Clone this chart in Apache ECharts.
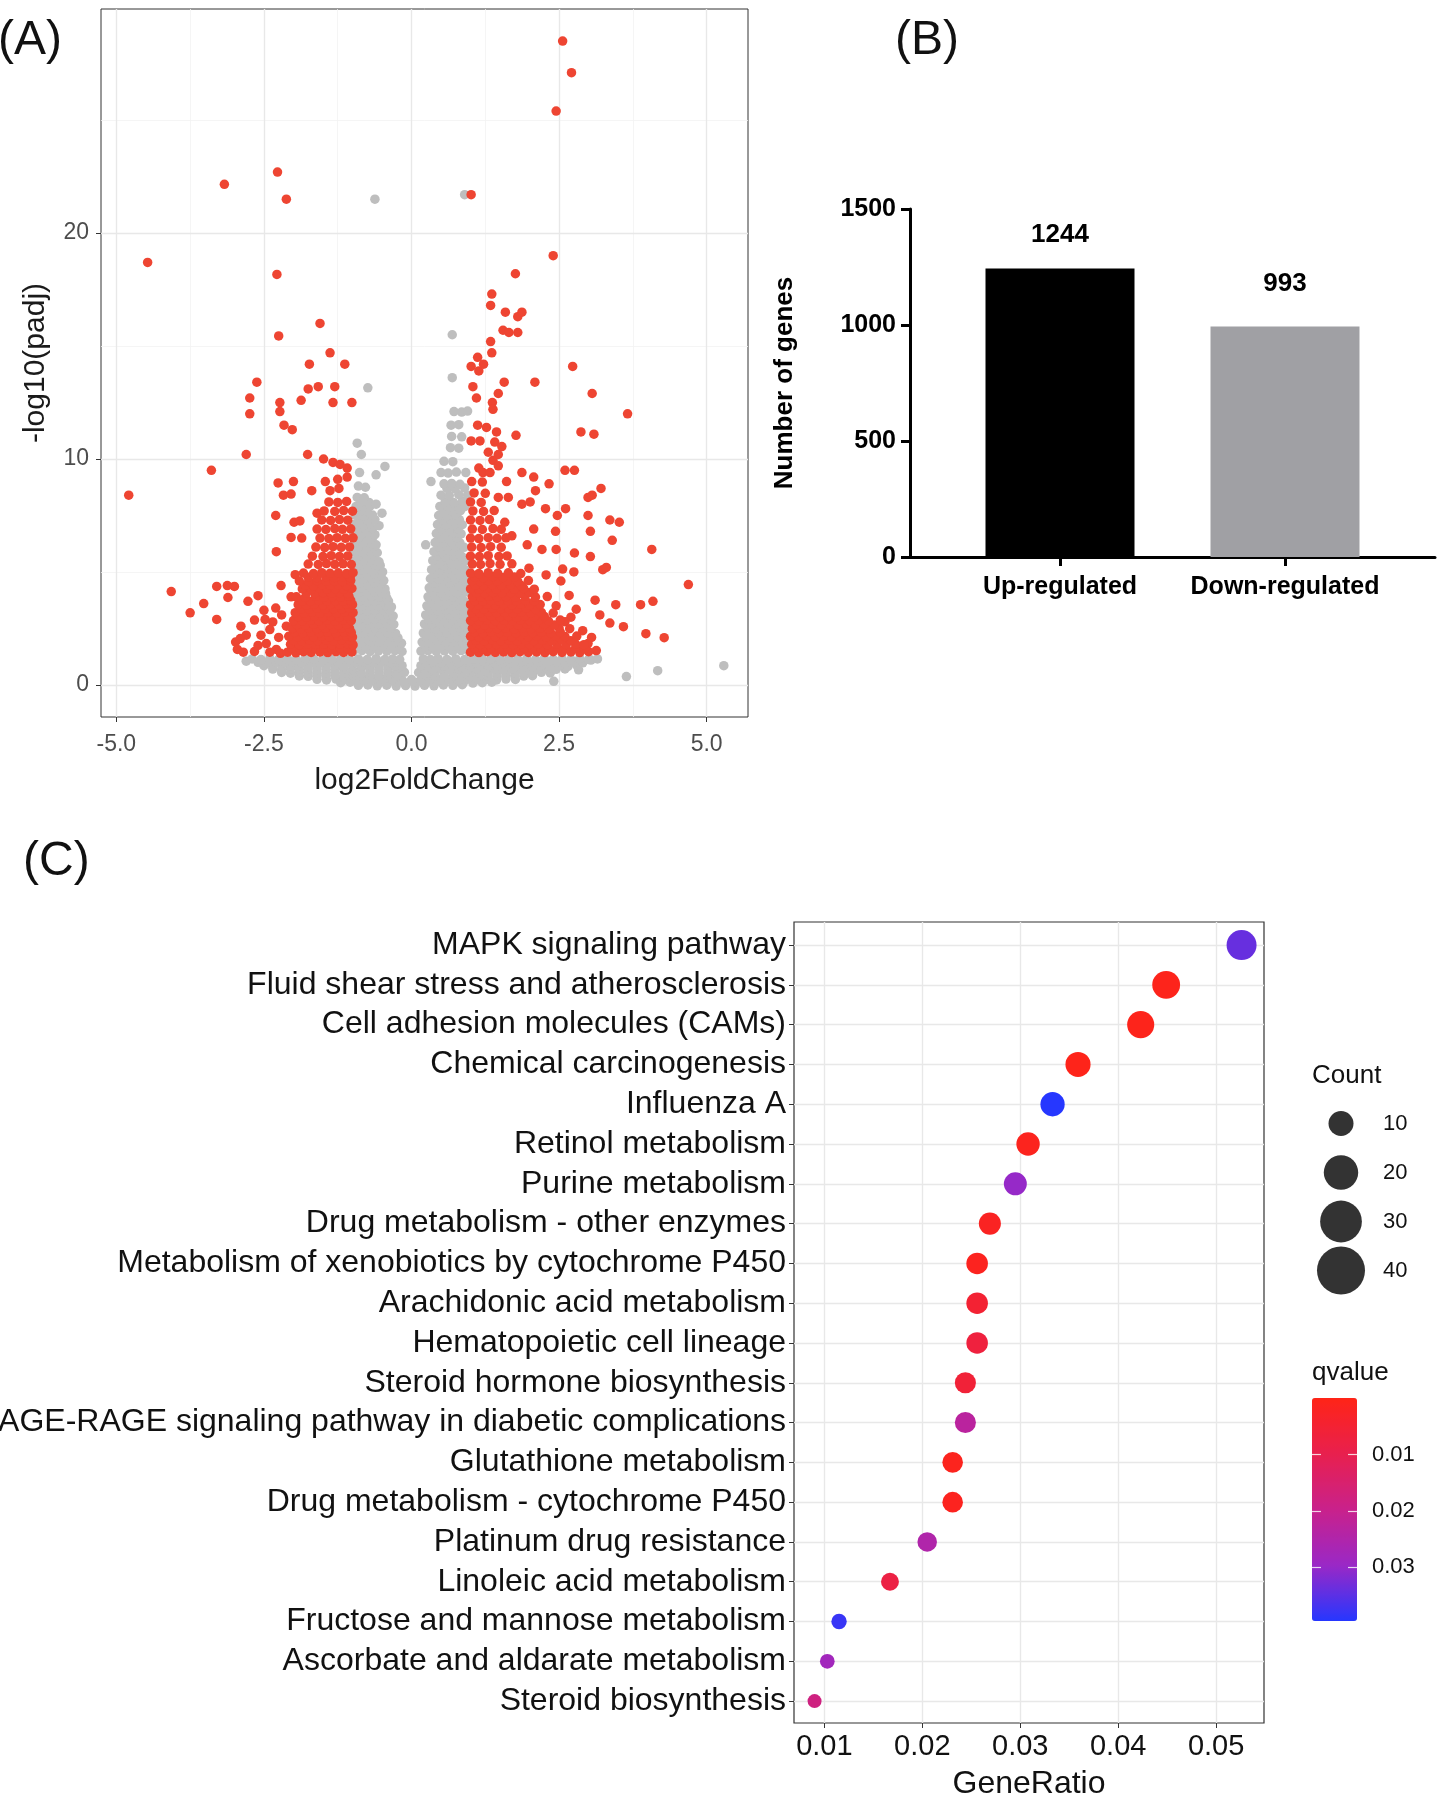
<!DOCTYPE html>
<html>
<head>
<meta charset="utf-8">
<title>DEG summary</title>
<script src="https://cdn.jsdelivr.net/npm/echarts@6.0.0/dist/echarts.min.js"></script>
<style>
html, body { margin: 0; padding: 0; background: #fff; }
#chart { width: 1442px; height: 1800px; }
</style>
</head>
<body>
<div id="chart"></div>
<script>
// (A) volcano: [log2FoldChange, -log10(padj)]
const sigGenes = [
  [-2.27,22.7],[-3.17,22.16],[-2.12,21.5],[-4.47,18.7],[-2.28,18.17],[-1.55,16.0],[-2.25,15.45],[-1.38,14.7],[-1.73,14.2],[-1.13,14.2],
  [-2.62,13.4],[-1.75,13.1],[-1.58,13.2],[-1.30,13.2],[-2.74,12.7],[-2.23,12.5],[-1.87,12.6],[-1.33,12.5],[-1.01,12.5],[-2.74,12.0],
  [-2.23,12.1],[-2.16,11.5],[-2.02,11.3],[-2.80,10.2],[-1.76,10.2],[-3.39,9.5],[-4.79,8.4],[-1.49,10.0],[-1.33,9.85],[-1.21,9.76],
  [-1.09,9.6],[-2.26,8.94],[-2.0,9.0],[-2.17,8.4],[-2.04,8.45],[-1.69,8.6],[-1.46,9.0],[-1.25,9.1],[-1.09,9.2],[-1.38,8.6],
  [-1.23,8.7],[-2.30,7.5],[-1.99,7.2],[-1.89,7.26],[-1.60,7.6],[-2.04,6.53],[-1.86,6.5],[-2.29,5.9],[-1.97,4.88],[-2.21,4.4],
  [-4.07,4.13],[-3.30,4.36],[-3.12,4.4],[-3.0,4.36],[-3.11,3.87],[-3.52,3.6],[-3.75,3.19],[-3.30,2.9],[-2.77,3.7],[-2.60,3.95],
  [-2.89,2.6],[-2.66,2.87],[-2.48,2.9],[-2.35,2.79],[-2.98,1.9],[-2.95,1.57],[-2.66,1.48],[-2.46,1.83],[-2.29,1.57],[-2.12,2.6],
  [-2.04,3.9],[-2.8,2.2],[-2.55,2.2],[-2.4,2.45],[-2.25,2.1],[-2.6,1.75],[-2.4,1.45],[-2.22,1.4],[-2.85,1.45],[-2.9,2.05],
  [-2.5,3.3],[-2.3,3.4],[-2.2,3.1],
  [-2.1,1.45],[-1.96,1.42],[-1.83,1.47],[-1.7,1.44],[-1.55,1.46],[-1.42,1.43],[-1.28,1.47],[-1.15,1.44],[-1.01,1.46],
  [-2.03,1.62],[-1.89,1.6],[-1.76,1.64],[-1.62,1.61],[-1.48,1.63],[-1.35,1.6],[-1.21,1.64],[-1.08,1.62],
  [-2.05,1.8],[-1.9,1.78],[-1.76,1.82],[-1.62,1.79],[-1.49,1.81],[-1.35,1.78],[-1.21,1.82],[-1.07,1.8],[-0.99,1.77],
  [-2.0,1.97],[-1.86,1.95],[-1.73,1.99],[-1.59,1.96],[-1.45,1.98],[-1.32,1.95],[-1.18,1.99],[-1.04,1.97],
  [-2.08,2.15],[-1.93,2.13],[-1.8,2.17],[-1.66,2.14],[-1.52,2.16],[-1.39,2.13],[-1.25,2.17],[-1.1,2.15],[-1.0,2.12],
  [-1.98,2.32],[-1.84,2.3],[-1.7,2.34],[-1.56,2.31],[-1.42,2.33],[-1.28,2.3],[-1.14,2.34],[-1.02,2.32],
  [-2.02,2.5],[-1.88,2.48],[-1.74,2.52],[-1.6,2.49],[-1.46,2.51],[-1.32,2.48],[-1.18,2.52],[-1.05,2.5],
  [-1.94,2.67],[-1.8,2.65],[-1.66,2.69],[-1.52,2.66],[-1.38,2.68],[-1.24,2.65],[-1.1,2.69],
  [-2.0,2.85],[-1.85,2.83],[-1.71,2.87],[-1.57,2.84],[-1.43,2.86],[-1.3,2.83],[-1.16,2.87],[-1.02,2.85],
  [-1.92,3.02],[-1.78,3.0],[-1.64,3.04],[-1.5,3.01],[-1.36,3.03],[-1.22,3.0],[-1.08,3.04],
  [-1.97,3.2],[-1.82,3.18],[-1.68,3.22],[-1.55,3.19],[-1.41,3.21],[-1.27,3.18],[-1.13,3.22],[-0.99,3.2],
  [-1.87,3.37],[-1.73,3.35],[-1.6,3.39],[-1.46,3.36],[-1.32,3.38],[-1.18,3.35],[-1.05,3.39],
  [-1.92,3.55],[-1.78,3.53],[-1.65,3.57],[-1.5,3.54],[-1.37,3.56],[-1.23,3.53],[-1.1,3.57],[-1.0,3.55],
  [-1.85,3.72],[-1.71,3.7],[-1.57,3.74],[-1.43,3.71],[-1.29,3.73],[-1.16,3.7],[-1.03,3.74],
  [-1.95,3.9],[-1.8,3.88],[-1.62,3.92],[-1.48,3.89],[-1.34,3.91],[-1.2,3.88],[-1.06,3.92],
  [-1.78,4.07],[-1.64,4.05],[-1.5,4.09],[-1.36,4.06],[-1.22,4.08],[-1.08,4.05],
  [-1.85,4.25],[-1.7,4.23],[-1.56,4.27],[-1.43,4.24],[-1.29,4.26],[-1.15,4.23],[-1.01,4.27],
  [-1.8,4.42],[-1.66,4.4],[-1.52,4.44],[-1.38,4.41],[-1.24,4.43],[-1.1,4.4],
  [-1.9,4.6],[-1.74,4.58],[-1.6,4.62],[-1.45,4.59],[-1.31,4.61],[-1.17,4.58],[-1.03,4.62],
  [-1.75,4.77],[-1.6,4.75],[-1.45,4.79],[-1.31,4.76],[-1.17,4.78],[-1.04,4.75],
  [-1.83,4.95],[-1.66,4.93],[-1.52,4.97],[-1.38,4.94],[-1.24,4.96],[-1.1,4.93],[-0.99,4.97],
  [-1.75,5.35],[-1.58,5.33],[-1.44,5.37],[-1.3,5.34],[-1.16,5.36],[-1.02,5.33],
  [-1.68,5.7],[-1.5,5.68],[-1.36,5.72],[-1.22,5.69],[-1.08,5.71],
  [-1.62,6.1],[-1.47,6.08],[-1.33,6.12],[-1.19,6.09],[-1.05,6.11],
  [-1.55,6.5],[-1.4,6.48],[-1.26,6.52],[-1.12,6.49],[-0.99,6.51],
  [-1.6,6.9],[-1.45,6.88],[-1.3,6.92],[-1.17,6.89],[-1.03,6.91],
  [-1.52,7.3],[-1.37,7.28],[-1.22,7.32],[-1.08,7.29],
  [-1.48,7.7],[-1.3,7.68],[-1.15,7.72],[-1.0,7.69],
  [-1.4,8.1],[-1.25,8.08],[-1.1,8.12],
  [2.56,28.5],[2.71,27.1],[2.45,25.4],[1.01,21.7],[2.40,19.0],[1.76,18.2],[1.36,17.3],[1.34,16.8],[1.59,16.5],[1.80,16.3],
  [1.87,16.5],[1.55,15.7],[1.65,15.6],[1.80,15.6],[1.34,15.2],[1.36,14.7],[1.12,14.5],[1.01,14.1],[1.14,13.9],[1.22,14.2],
  [2.73,14.1],[2.09,13.4],[1.04,13.2],[1.47,12.9],[1.57,13.4],[1.10,12.7],[1.37,12.5],[3.06,12.9],[1.38,12.2],[3.66,12.0],
  [1.12,11.5],[1.27,11.4],[1.44,11.2],[1.77,11.05],[2.87,11.2],[3.09,11.1],[1.01,10.8],[1.16,10.8],[1.41,10.75],[1.53,10.55],
  [1.30,10.3],[1.47,10.2],[1.38,9.94],[1.14,9.6],[1.21,9.4],[1.33,9.4],[1.47,9.7],[1.87,9.4],[2.07,9.2],[2.60,9.5],
  [2.76,9.5],[1.61,9.0],[2.33,8.9],[2.10,8.6],[3.21,8.7],[1.47,8.3],[1.64,8.3],[2.01,8.1],[1.87,8.0],[2.99,8.3],
  [3.06,8.4],[2.27,7.8],[2.61,7.8],[2.47,7.5],[2.99,7.5],[3.36,7.3],[3.52,7.2],[1.58,7.2],[2.07,6.9],[2.44,6.8],
  [3.03,6.8],[3.40,6.4],[4.07,6.0],[1.70,6.6],[1.96,6.2],[2.21,6.0],[2.45,6.0],[2.76,5.84],[3.03,5.68],[3.24,5.1],
  [3.30,5.2],[2.56,5.13],[2.75,5.0],[2.28,4.87],[2.53,4.6],[1.99,5.17],[4.69,4.44],[2.67,3.96],[3.11,3.75],[3.46,3.55],
  [3.88,3.55],[4.09,3.7],[2.79,3.35],[3.19,3.1],[3.36,2.74],[3.59,2.58],[3.97,2.27],[4.28,2.09],[3.13,1.52],[2.99,1.83],
  [2.9,2.4],[3.05,2.1],[2.7,3.0],[2.45,3.5],[2.6,2.8],
  [1.0,1.45],[1.14,1.43],[1.28,1.47],[1.42,1.44],[1.56,1.46],[1.7,1.43],[1.84,1.47],[1.98,1.44],[2.12,1.46],[2.26,1.43],[2.4,1.47],[2.55,1.44],[2.7,1.46],[2.85,1.43],[3.0,1.47],
  [1.07,1.62],[1.21,1.6],[1.35,1.64],[1.49,1.61],[1.63,1.63],[1.77,1.6],[1.91,1.64],[2.05,1.61],[2.19,1.63],[2.33,1.6],[2.48,1.64],[2.62,1.61],[2.78,1.63],[2.93,1.6],
  [1.02,1.8],[1.16,1.78],[1.3,1.82],[1.44,1.79],[1.58,1.81],[1.72,1.78],[1.86,1.82],[2.0,1.79],[2.14,1.81],[2.3,1.78],[2.46,1.82],[2.62,1.79],[2.78,1.81],[2.92,1.78],
  [1.09,1.97],[1.23,1.95],[1.37,1.99],[1.51,1.96],[1.65,1.98],[1.79,1.95],[1.93,1.99],[2.07,1.96],[2.22,1.98],[2.38,1.95],[2.54,1.99],[2.7,1.96],
  [1.0,2.15],[1.14,2.13],[1.28,2.17],[1.42,2.14],[1.56,2.16],[1.7,2.13],[1.84,2.17],[1.98,2.14],[2.12,2.16],[2.28,2.13],[2.44,2.17],[2.6,2.14],[2.8,2.16],
  [1.07,2.32],[1.21,2.3],[1.35,2.34],[1.49,2.31],[1.63,2.33],[1.77,2.3],[1.91,2.34],[2.05,2.31],[2.2,2.33],[2.36,2.3],[2.52,2.34],
  [1.03,2.5],[1.17,2.48],[1.31,2.52],[1.45,2.49],[1.6,2.51],[1.74,2.48],[1.88,2.52],[2.02,2.49],[2.17,2.51],[2.33,2.48],[2.5,2.52],[2.68,2.49],
  [1.1,2.67],[1.24,2.65],[1.38,2.69],[1.52,2.66],[1.67,2.68],[1.81,2.65],[1.95,2.69],[2.1,2.66],[2.25,2.68],[2.42,2.65],
  [1.0,2.85],[1.14,2.83],[1.28,2.87],[1.42,2.84],[1.57,2.86],[1.71,2.83],[1.85,2.87],[2.0,2.84],[2.15,2.86],[2.32,2.83],[2.52,2.87],
  [1.07,3.02],[1.21,3.0],[1.35,3.04],[1.5,3.01],[1.64,3.03],[1.78,3.0],[1.92,3.04],[2.08,3.01],[2.25,3.03],
  [1.02,3.2],[1.16,3.18],[1.3,3.22],[1.44,3.19],[1.58,3.21],[1.72,3.18],[1.86,3.22],[2.02,3.19],[2.2,3.21],[2.4,3.18],
  [1.09,3.37],[1.23,3.35],[1.37,3.39],[1.51,3.36],[1.65,3.38],[1.79,3.35],[1.94,3.39],[2.1,3.36],
  [1.0,3.55],[1.14,3.53],[1.28,3.57],[1.42,3.54],[1.56,3.56],[1.7,3.53],[1.85,3.57],[2.0,3.54],[2.18,3.56],
  [1.07,3.72],[1.21,3.7],[1.35,3.74],[1.49,3.71],[1.63,3.73],[1.78,3.7],[1.93,3.74],[2.08,3.71],
  [1.03,3.9],[1.17,3.88],[1.31,3.92],[1.45,3.89],[1.6,3.91],[1.76,3.88],[1.92,3.92],[2.1,3.89],[2.3,3.91],
  [1.1,4.07],[1.24,4.05],[1.38,4.09],[1.53,4.06],[1.68,4.08],[1.84,4.05],[2.0,4.09],
  [1.0,4.25],[1.14,4.23],[1.28,4.27],[1.43,4.24],[1.58,4.26],[1.74,4.23],[1.9,4.27],[2.08,4.24],
  [1.08,4.42],[1.22,4.4],[1.36,4.44],[1.52,4.41],[1.68,4.43],[1.86,4.4],
  [1.02,4.6],[1.16,4.58],[1.3,4.62],[1.45,4.59],[1.62,4.61],[1.8,4.58],[1.98,4.62],
  [1.07,4.77],[1.22,4.75],[1.38,4.79],[1.55,4.76],[1.74,4.78],
  [1.0,4.95],[1.14,4.93],[1.3,4.97],[1.46,4.94],[1.64,4.96],[1.85,4.93],
  [1.03,5.35],[1.17,5.33],[1.33,5.37],[1.5,5.34],[1.7,5.36],
  [1.0,5.7],[1.15,5.68],[1.3,5.72],[1.48,5.69],[1.62,5.71],
  [1.02,6.1],[1.18,6.08],[1.34,6.12],[1.52,6.09],
  [1.0,6.5],[1.14,6.48],[1.3,6.52],[1.45,6.49],[1.6,6.51],
  [1.03,6.9],[1.2,6.88],[1.38,6.92],[1.52,6.89],
  [1.0,7.3],[1.16,7.28],[1.32,7.32],
  [1.04,7.7],[1.22,7.68],[1.4,7.72],
  [1.0,8.1],[1.18,8.08],
  [1.06,8.5],[1.25,8.48],
  [1.02,9.0],[1.2,8.98]
];

const otherGenes = [
  [-0.62,21.5],[-0.74,13.15],[0.9,21.7],[0.69,15.5],[0.69,13.6],[-0.45,9.67],[-0.92,10.7],[-0.85,10.2],
  [5.29,0.85],[4.17,0.63],[3.64,0.37],[2.41,0.16],[2.83,0.67],[3.04,1.1],[-2.8,1.05],
  [-0.9,-0.02],[-0.74,0.0],[-0.58,-0.04],[-0.42,-0.01],[-0.26,-0.05],[-0.1,-0.03],[0.06,-0.05],[0.22,-0.02],[0.38,-0.04],[0.54,0.0],[0.7,-0.02],[0.86,0.01],
  [-1.2,0.1],[-1.04,0.12],[-0.88,0.09],[-0.72,0.11],[-0.56,0.08],[-0.4,0.1],[-0.24,0.12],[-0.08,0.09],[0.08,0.11],[0.24,0.08],[0.4,0.1],
  [0.56,0.12],[0.72,0.09],[0.88,0.11],[1.04,0.08],[1.2,0.1],[1.36,0.12],
  [-1.6,0.25],[-1.44,0.22],[-1.28,0.26],[-1.12,0.23],[-0.96,0.25],[-0.8,0.22],[-0.64,0.26],[-0.48,0.23],[-0.32,0.25],[-0.16,0.22],[0.0,0.24],
  [0.16,0.22],[0.32,0.26],[0.48,0.23],[0.64,0.25],[0.8,0.22],[0.96,0.26],[1.12,0.23],[1.28,0.25],[1.44,0.22],[1.6,0.26],[1.76,0.24],
  [-1.9,0.4],[-1.75,0.38],[-1.6,0.42],[-1.45,0.39],[-1.3,0.41],[-1.15,0.38],[-1.0,0.42],[-0.85,0.39],[-0.7,0.41],[-0.55,0.38],[-0.4,0.42],
  [-0.25,0.39],[0.25,0.41],[0.4,0.38],[0.55,0.42],[0.7,0.39],[0.85,0.41],[1.0,0.38],[1.15,0.42],[1.3,0.39],[1.45,0.41],[1.6,0.38],
  [1.75,0.42],[1.9,0.39],[2.05,0.41],
  [-2.2,0.55],[-2.05,0.52],[-1.9,0.56],[-1.75,0.53],[-1.6,0.55],[-1.45,0.52],[-1.3,0.56],[-1.15,0.53],[-1.0,0.55],[-0.85,0.52],[-0.7,0.56],
  [-0.55,0.53],[-0.4,0.55],[-0.26,0.52],[-0.12,0.56],[0.12,0.55],[0.26,0.52],[0.4,0.56],[0.55,0.53],[0.7,0.55],[0.85,0.52],[1.0,0.56],
  [1.15,0.53],[1.3,0.55],[1.45,0.52],[1.6,0.56],[1.75,0.53],[1.9,0.55],[2.05,0.52],[2.2,0.56],[2.35,0.53],
  [-2.35,0.7],[-2.2,0.68],[-2.05,0.72],[-1.9,0.69],[-1.75,0.71],[-1.6,0.68],[-1.45,0.72],[-1.3,0.69],[-1.15,0.71],[-1.0,0.68],[-0.85,0.72],
  [-0.7,0.69],[-0.55,0.71],[-0.4,0.68],[-0.25,0.72],[0.22,0.7],[0.35,0.68],[0.5,0.72],[0.65,0.69],[0.8,0.71],[0.95,0.68],[1.1,0.72],
  [1.25,0.69],[1.4,0.71],[1.55,0.68],[1.7,0.72],[1.85,0.69],[2.0,0.71],[2.15,0.68],[2.3,0.72],[2.45,0.69],[2.6,0.71],
  [-2.5,0.85],[-2.35,0.82],[-2.2,0.86],[-2.05,0.83],[-1.9,0.85],[-1.75,0.82],[-1.6,0.86],[-1.45,0.83],[-1.3,0.85],[-1.15,0.82],[-1.0,0.86],
  [-0.85,0.83],[-0.7,0.85],[-0.55,0.82],[-0.4,0.86],[-0.28,0.83],[-0.16,0.85],[0.16,0.85],[0.28,0.82],[0.4,0.86],[0.55,0.83],[0.7,0.85],
  [0.85,0.82],[1.0,0.86],[1.15,0.83],[1.3,0.85],[1.45,0.82],[1.6,0.86],[1.75,0.83],[1.9,0.85],[2.05,0.82],[2.2,0.86],[2.35,0.83],[2.5,0.85],
  [2.65,0.82],[2.8,0.86],
  [-2.6,1.0],[-2.45,0.98],[-2.3,1.02],[-2.15,0.99],[-2.0,1.01],[-1.85,0.98],[-1.7,1.02],[-1.55,0.99],[-1.4,1.01],[-1.25,0.98],[-1.1,1.02],
  [-0.95,0.99],[-0.8,1.01],[-0.65,0.98],[-0.5,1.02],[-0.36,0.99],[-0.24,1.01],[0.24,0.99],[0.36,1.01],[0.5,0.98],[0.65,1.02],[0.8,0.99],
  [0.95,1.01],[1.1,0.98],[1.25,1.02],[1.4,0.99],[1.55,1.01],[1.7,0.98],[1.85,1.02],[2.0,0.99],[2.15,1.01],[2.3,0.98],[2.45,1.02],[2.6,0.99],
  [2.75,1.01],[2.9,0.98],
  [-2.7,1.15],[-2.55,1.12],[-2.4,1.16],[-2.25,1.13],[-2.1,1.15],[-1.95,1.12],[-1.8,1.16],[-1.65,1.13],[-1.5,1.15],[-1.35,1.12],[-1.2,1.16],
  [-1.05,1.13],[-0.9,1.15],[-0.75,1.12],[-0.6,1.16],[-0.45,1.13],[-0.32,1.15],[-0.2,1.12],[0.2,1.15],[0.32,1.12],[0.45,1.16],[0.6,1.13],
  [0.75,1.15],[0.9,1.12],[1.05,1.16],[1.2,1.13],[1.35,1.15],[1.5,1.12],[1.65,1.16],[1.8,1.13],[1.95,1.15],[2.1,1.12],[2.25,1.16],[2.4,1.13],
  [2.55,1.15],[2.7,1.12],[2.85,1.16],[3.0,1.13],[3.15,1.15],
  [-0.98,1.5],[-0.84,1.52],[-0.7,1.48],[-0.56,1.51],[-0.42,1.49],[-0.28,1.52],[-0.16,1.48],
  [-0.91,1.7],[-0.77,1.68],[-0.63,1.72],[-0.49,1.69],[-0.35,1.71],[-0.22,1.68],
  [-0.98,1.9],[-0.84,1.88],[-0.7,1.92],[-0.56,1.89],[-0.42,1.91],[-0.29,1.88],[-0.17,1.85],
  [-0.91,2.1],[-0.77,2.08],[-0.63,2.12],[-0.49,2.09],[-0.35,2.11],[-0.23,2.08],
  [-0.96,2.3],[-0.82,2.28],[-0.68,2.32],[-0.54,2.29],[-0.4,2.31],[-0.27,2.28],
  [-0.9,2.5],[-0.76,2.48],[-0.62,2.52],[-0.48,2.49],[-0.35,2.51],
  [-0.98,2.7],[-0.84,2.68],[-0.7,2.72],[-0.56,2.69],[-0.42,2.71],[-0.3,2.68],
  [-0.9,2.9],[-0.76,2.88],[-0.62,2.92],[-0.48,2.89],[-0.36,2.91],
  [-0.96,3.1],[-0.82,3.08],[-0.68,3.12],[-0.54,3.09],[-0.4,3.11],[-0.31,3.05],
  [-0.9,3.3],[-0.76,3.28],[-0.62,3.32],[-0.48,3.29],[-0.37,3.31],
  [-0.98,3.5],[-0.84,3.48],[-0.7,3.52],[-0.56,3.49],[-0.43,3.51],[-0.34,3.45],
  [-0.9,3.7],[-0.76,3.68],[-0.62,3.72],[-0.49,3.69],[-0.39,3.71],
  [-0.96,3.9],[-0.82,3.88],[-0.68,3.92],[-0.55,3.89],[-0.42,3.85],
  [-0.9,4.1],[-0.76,4.08],[-0.62,4.12],[-0.5,4.09],[-0.44,4.05],
  [-0.98,4.3],[-0.84,4.28],[-0.7,4.32],[-0.57,4.29],[-0.45,4.25],
  [-0.9,4.5],[-0.76,4.48],[-0.62,4.52],[-0.51,4.49],
  [-0.96,4.7],[-0.82,4.68],[-0.68,4.72],[-0.55,4.69],[-0.47,4.62],
  [-0.9,4.9],[-0.76,4.88],[-0.62,4.92],[-0.52,4.89],
  [-0.98,5.1],[-0.84,5.08],[-0.7,5.12],[-0.57,5.09],[-0.49,5.0],
  [-0.9,5.3],[-0.76,5.28],[-0.62,5.32],[-0.53,5.29],
  [-0.96,5.5],[-0.82,5.48],[-0.68,5.52],[-0.55,5.45],
  [-0.9,5.7],[-0.76,5.68],[-0.63,5.72],
  [-0.98,5.9],[-0.84,5.88],[-0.7,5.92],[-0.58,5.85],
  [-0.9,6.1],[-0.76,6.08],[-0.64,6.12],
  [-0.96,6.3],[-0.82,6.28],[-0.68,6.32],[-0.6,6.2],
  [-0.9,6.5],[-0.76,6.48],[-0.66,6.52],
  [-0.98,6.7],[-0.84,6.68],[-0.72,6.72],[-0.62,6.65],
  [-0.9,6.9],[-0.77,6.88],[-0.66,6.92],
  [-0.96,7.1],[-0.82,7.08],[-0.7,7.12],[-0.55,7.05],
  [-0.88,7.3],[-0.75,7.28],[-0.62,7.32],
  [-0.95,7.5],[-0.8,7.48],[-0.66,7.52],
  [-0.87,7.7],[-0.75,7.68],
  [-0.94,7.9],[-0.82,7.88],[-0.7,7.92],[-0.5,7.6],
  [-0.86,8.1],[-0.72,8.08],
  [-0.92,8.3],[-0.8,8.28],[-0.6,8.0],
  [-0.9,8.8],[-0.78,8.75],
  [-0.88,9.4],[-0.6,9.3],
  [0.16,1.5],[0.28,1.52],[0.42,1.48],[0.56,1.51],[0.7,1.49],[0.84,1.52],[0.97,1.48],
  [0.23,1.7],[0.36,1.68],[0.5,1.72],[0.64,1.69],[0.78,1.71],[0.91,1.68],
  [0.18,1.9],[0.3,1.88],[0.44,1.92],[0.58,1.89],[0.72,1.91],[0.86,1.88],[0.98,1.92],
  [0.25,2.1],[0.37,2.08],[0.51,2.12],[0.65,2.09],[0.79,2.11],[0.92,2.08],
  [0.2,2.3],[0.33,2.28],[0.46,2.32],[0.6,2.29],[0.74,2.31],[0.88,2.28],
  [0.27,2.5],[0.4,2.48],[0.54,2.52],[0.68,2.49],[0.82,2.51],[0.95,2.48],
  [0.22,2.7],[0.34,2.68],[0.48,2.72],[0.62,2.69],[0.76,2.71],[0.9,2.68],
  [0.29,2.9],[0.42,2.88],[0.56,2.92],[0.7,2.89],[0.84,2.91],[0.97,2.88],
  [0.24,3.1],[0.36,3.08],[0.5,3.12],[0.64,3.09],[0.78,3.11],[0.92,3.08],
  [0.31,3.3],[0.44,3.28],[0.58,3.32],[0.72,3.29],[0.86,3.31],
  [0.26,3.5],[0.4,3.48],[0.54,3.52],[0.68,3.49],[0.82,3.51],[0.96,3.48],
  [0.33,3.7],[0.47,3.68],[0.61,3.72],[0.75,3.69],[0.89,3.71],
  [0.28,3.9],[0.42,3.88],[0.56,3.92],[0.7,3.89],[0.84,3.91],
  [0.35,4.1],[0.49,4.08],[0.63,4.12],[0.77,4.09],[0.92,4.11],
  [0.3,4.3],[0.44,4.28],[0.58,4.32],[0.72,4.29],[0.86,4.31],
  [0.37,4.5],[0.51,4.48],[0.65,4.52],[0.79,4.49],[0.93,4.51],
  [0.32,4.7],[0.46,4.68],[0.6,4.72],[0.74,4.69],[0.88,4.71],
  [0.39,4.9],[0.53,4.88],[0.67,4.92],[0.81,4.89],[0.95,4.91],
  [0.34,5.1],[0.48,5.08],[0.62,5.12],[0.76,5.09],[0.9,5.11],
  [0.41,5.3],[0.55,5.28],[0.69,5.32],[0.83,5.29],
  [0.36,5.5],[0.5,5.48],[0.64,5.52],[0.78,5.49],[0.92,5.51],
  [0.43,5.7],[0.57,5.68],[0.71,5.72],[0.85,5.69],
  [0.24,6.2],[0.38,5.9],[0.52,5.88],[0.66,5.92],[0.8,5.89],
  [0.47,6.1],[0.61,6.08],[0.75,6.12],[0.89,6.09],
  [0.4,6.3],[0.54,6.28],[0.68,6.32],[0.82,6.29],
  [0.49,6.5],[0.63,6.48],[0.77,6.52],
  [0.42,6.7],[0.56,6.68],[0.7,6.72],[0.84,6.69],
  [0.51,6.9],[0.65,6.88],[0.79,6.92],
  [0.44,7.1],[0.58,7.08],[0.72,7.12],[0.86,7.09],
  [0.53,7.3],[0.67,7.28],[0.81,7.32],
  [0.46,7.5],[0.6,7.48],[0.74,7.52],
  [0.55,7.7],[0.69,7.68],[0.83,7.72],
  [0.48,7.9],[0.62,7.88],[0.76,7.92],[0.9,7.89],
  [0.57,8.1],[0.71,8.08],[0.86,8.12],
  [0.5,8.4],[0.64,8.38],[0.8,8.42],[0.95,8.4],
  [0.6,8.7],[0.74,8.68],[0.9,8.72],
  [0.33,9.0],[0.55,8.9],[0.68,8.92],[0.82,8.88],
  [0.5,9.4],[0.62,9.38],[0.76,9.42],[0.92,9.4],
  [0.55,9.9],[0.7,9.88],
  [0.66,10.5],[0.8,10.48],
  [0.68,11.0],[0.85,10.98],
  [0.67,11.5],[0.8,11.52],
  [0.72,12.1],[0.85,12.08],[0.95,12.12]
];
const volcanoXTicks = [-5, -2.5, 0, 2.5, 5];
const volcanoXMinor = [-3.75, -1.25, 1.25, 3.75];
const volcanoYTicks = [0, 10, 20];
const volcanoYMinor = [5, 15, 25];

// (B) number of DEGs
const regCategories = ['Up-regulated', 'Down-regulated'];
const regCounts = [1244, 993];

// (C) KEGG enrichment
const pathways = [
  'MAPK signaling pathway',
  'Fluid shear stress and atherosclerosis',
  'Cell adhesion molecules (CAMs)',
  'Chemical carcinogenesis',
  'Influenza A',
  'Retinol metabolism',
  'Purine metabolism',
  'Drug metabolism - other enzymes',
  'Metabolism of xenobiotics by cytochrome P450',
  'Arachidonic acid metabolism',
  'Hematopoietic cell lineage',
  'Steroid hormone biosynthesis',
  'AGE-RAGE signaling pathway in diabetic complications',
  'Glutathione metabolism',
  'Drug metabolism - cytochrome P450',
  'Platinum drug resistance',
  'Linoleic acid metabolism',
  'Fructose and mannose metabolism',
  'Ascorbate and aldarate metabolism',
  'Steroid biosynthesis'
];
const geneRatio = [0.0526, 0.0449, 0.0423, 0.0359, 0.0333, 0.0308, 0.0295, 0.0269, 0.0256, 0.0256,
                   0.0256, 0.0244, 0.0244, 0.0231, 0.0231, 0.0205, 0.0167, 0.0115, 0.0103, 0.0090];
const geneCount = [41, 35, 33, 28, 26, 24, 23, 21, 20, 20, 20, 19, 19, 18, 18, 16, 13, 9, 8, 7];
const qValue = [0.034, 0.0008, 0.0008, 0.0006, 0.0395, 0.0012, 0.030, 0.002, 0.0015, 0.005,
                0.007, 0.006, 0.023, 0.0012, 0.0015, 0.025, 0.008, 0.038, 0.028, 0.018];
const ratioTicks = [0.01, 0.02, 0.03, 0.04, 0.05];
const ratioMinor = [0.015, 0.025, 0.035, 0.045];
const countLegend = [10, 20, 30, 40];
const qTicks = [0.01, 0.02, 0.03];

const FONT = '"Liberation Sans", Arial, Helvetica, sans-serif';
const qColors = ['#ff2417', '#e8204e', '#c9218b', '#9a28c6', '#2637ff'];
const barColors = ['#000000', '#a0a0a4'];
const barLabelGap = [21, 30];

function dotSize (count) {
  return Math.sqrt(20.7 * count + 51);
}
function keySize (count) {
  return Math.sqrt(56 * count + 65);
}
function vLines (values, color, width) {
  return values.map(v => ({ xAxis: v, lineStyle: { color: color, width: width, type: 'solid' } }));
}
function hLines (values, color, width) {
  return values.map(v => ({ yAxis: v, lineStyle: { color: color, width: width, type: 'solid' } }));
}
// panel grid lines, kept under the points
function gridLineSeries (axisIndex, lines) {
  return {
    type: 'scatter',
    xAxisIndex: axisIndex,
    yAxisIndex: axisIndex,
    data: [],
    silent: true,
    z: 1,
    markLine: {
      z: 1,
      silent: true,
      animation: false,
      symbol: ['none', 'none'],
      label: { show: false },
      data: lines
    }
  };
}

const pathwayIdx = pathways.map((p, i) => i);
const enrichData = pathways.map((p, i) => [geneRatio[i], i, geneCount[i], qValue[i]]);

const chart = echarts.init(document.getElementById('chart'), null, { renderer: 'canvas' });

chart.setOption({
  animation: false,
  backgroundColor: '#ffffff',
  textStyle: { fontFamily: FONT },
  title: [
    { text: '(A)', left: -2, top: 17, padding: 0, textStyle: { fontSize: 48, fontWeight: 'normal', color: '#111', fontFamily: FONT } },
    { text: '(B)', left: 895, top: 17, padding: 0, textStyle: { fontSize: 48, fontWeight: 'normal', color: '#111', fontFamily: FONT } },
    { text: '(C)', left: 23, top: 838, padding: 0, textStyle: { fontSize: 48, fontWeight: 'normal', color: '#111', fontFamily: FONT } },
    { text: 'Count', left: 1312, top: 1063, padding: 0, textStyle: { fontSize: 26, fontWeight: 'normal', color: '#111', fontFamily: FONT } },
    { text: 'qvalue', left: 1312, top: 1360, padding: 0, textStyle: { fontSize: 26, fontWeight: 'normal', color: '#111', fontFamily: FONT } }
  ],
  grid: [
    { left: 101, top: 9, width: 647, height: 708, show: true, borderColor: '#333', borderWidth: 1, backgroundColor: '#fff', containLabel: false, outerBoundsMode: 'none' },
    { left: 910, top: 209, width: 525, height: 348, containLabel: false, outerBoundsMode: 'none' },
    { left: 794, top: 922, width: 470, height: 801, show: true, borderColor: '#333', borderWidth: 1.2, backgroundColor: '#fff', containLabel: false, outerBoundsMode: 'none' },
    { left: 1320, top: 1099, width: 42, height: 196, containLabel: false, outerBoundsMode: 'none' },
    { left: 1312, top: 1398, width: 45, height: 223, containLabel: false, outerBoundsMode: 'none' }
  ],
  visualMap: [{
    type: 'continuous',
    seriesIndex: 5,
    dimension: 3,
    min: 0,
    max: 0.0395,
    inverse: true,
    calculable: false,
    orient: 'vertical',
    left: 1312,
    top: 1398,
    padding: 0,
    itemWidth: 45,
    itemHeight: 223,
    inRange: { color: qColors }
  }],
  xAxis: [
    {
      gridIndex: 0, type: 'value', min: -5.26, max: 5.70,
      axisLine: { show: false, onZero: false },
      axisTick: { show: true, length: 5, lineStyle: { color: '#333' }, customValues: volcanoXTicks },
      axisLabel: { customValues: volcanoXTicks, formatter: v => v.toFixed(1), color: '#4d4d4d', fontSize: 23, margin: 16, fontFamily: FONT },
      splitLine: { show: false },
      name: 'log2FoldChange', nameLocation: 'middle', nameGap: 49,
      nameTextStyle: { fontSize: 30, color: '#1a1a1a', fontFamily: FONT }
    },
    {
      gridIndex: 1, type: 'value', min: -0.6667, max: 1.6667,
      axisLine: { show: true, onZero: false, lineStyle: { color: '#000', width: 3 } },
      axisTick: { show: true, length: 9, lineStyle: { color: '#000', width: 3 }, customValues: [0, 1] },
      axisLabel: { customValues: [0, 1], formatter: v => regCategories[Math.round(v)], color: '#000', fontSize: 25, fontWeight: 'bold', margin: 18, fontFamily: FONT },
      splitLine: { show: false }
    },
    {
      gridIndex: 2, type: 'value', min: 0.0069, max: 0.05489,
      axisLine: { show: false, onZero: false },
      axisTick: { show: true, length: 5, lineStyle: { color: '#333' }, customValues: ratioTicks },
      axisLabel: { customValues: ratioTicks, formatter: v => v.toFixed(2), color: '#111', fontSize: 29, margin: 9, fontFamily: FONT },
      splitLine: { show: false },
      name: 'GeneRatio', nameLocation: 'middle', nameGap: 45,
      nameTextStyle: { fontSize: 32, color: '#111', fontFamily: FONT }
    },
    { gridIndex: 3, type: 'value', min: 0, max: 1, show: false },
    { gridIndex: 4, type: 'value', min: 0, max: 1, show: false }
  ],
  yAxis: [
    {
      gridIndex: 0, type: 'value', min: -1.42, max: 29.92,
      axisLine: { show: false, onZero: false },
      axisTick: { show: true, length: 5, lineStyle: { color: '#333' }, customValues: volcanoYTicks },
      axisLabel: { customValues: volcanoYTicks, color: '#4d4d4d', fontSize: 23, margin: 12, fontFamily: FONT },
      splitLine: { show: false },
      name: '-log10(padj)', nameLocation: 'middle', nameRotate: 90, nameGap: 50,
      nameTextStyle: { fontSize: 30, color: '#1a1a1a', fontFamily: FONT }
    },
    {
      gridIndex: 1, type: 'value', min: 0, max: 1500, interval: 500,
      axisLine: { show: true, onZero: false, lineStyle: { color: '#000', width: 3 } },
      axisTick: { show: true, length: 9, lineStyle: { color: '#000', width: 3 } },
      axisLabel: { formatter: v => String(v), color: '#000', fontSize: 25, fontWeight: 'bold', margin: 14, fontFamily: FONT },
      splitLine: { show: false },
      name: 'Number of genes', nameLocation: 'middle', nameRotate: 90, nameGap: 112,
      nameTextStyle: { fontSize: 26, fontWeight: 'bold', color: '#000', fontFamily: FONT }
    },
    {
      gridIndex: 2, type: 'value', min: -0.58, max: 19.55, inverse: true,
      axisLine: { show: false, onZero: false },
      axisTick: { show: true, length: 5, lineStyle: { color: '#333' }, customValues: pathwayIdx },
      axisLabel: { customValues: pathwayIdx, formatter: v => pathways[Math.round(v)], color: '#111', fontSize: 32, margin: 8, fontFamily: FONT },
      splitLine: { show: false }
    },
    {
      gridIndex: 3, type: 'category', inverse: true, position: 'right',
      data: countLegend.map(String),
      axisLine: { show: false }, axisTick: { show: false },
      axisLabel: { color: '#111', fontSize: 22, margin: 21, fontFamily: FONT },
      splitLine: { show: false }
    },
    {
      gridIndex: 4, type: 'value', min: 0, max: 0.0395, inverse: true, position: 'right', z: 10,
      axisLine: { show: false, onZero: false },
      axisTick: { show: true, inside: true, length: 9, lineStyle: { color: '#ffffff', width: 1.2, opacity: 0.8 }, customValues: qTicks },
      axisLabel: { customValues: qTicks, formatter: v => v.toFixed(2), color: '#111', fontSize: 22, margin: 15, fontFamily: FONT },
      splitLine: { show: false }
    },
    {
      gridIndex: 4, type: 'value', min: 0, max: 0.0395, inverse: true, position: 'left', z: 10,
      axisLine: { show: false, onZero: false },
      axisTick: { show: true, inside: true, length: 9, lineStyle: { color: '#ffffff', width: 1.2, opacity: 0.8 }, customValues: qTicks },
      axisLabel: { show: false },
      splitLine: { show: false }
    }
  ],
  series: [
    gridLineSeries(0, [].concat(
      vLines(volcanoXMinor, '#f3f3f3', 0.8),
      hLines(volcanoYMinor, '#f3f3f3', 0.8),
      vLines(volcanoXTicks, '#e8e8e8', 1.4),
      hLines(volcanoYTicks, '#e8e8e8', 1.4)
    )),
    {
      name: 'not significant',
      type: 'scatter',
      xAxisIndex: 0, yAxisIndex: 0,
      symbolSize: 9.5,
      z: 3,
      itemStyle: { color: '#bebebe', opacity: 1 },
      data: otherGenes
    },
    {
      name: 'significant',
      type: 'scatter',
      xAxisIndex: 0, yAxisIndex: 0,
      symbolSize: 9.5,
      z: 4,
      itemStyle: { color: '#ee4532', opacity: 1 },
      data: sigGenes
    },
    {
      name: 'DEGs',
      type: 'bar',
      xAxisIndex: 1, yAxisIndex: 1,
      barWidth: 149,
      data: regCounts.map((c, i) => ({
        value: [i, c],
        itemStyle: { color: barColors[i] },
        label: { distance: barLabelGap[i] }
      })),
      label: {
        show: true, position: 'top',
        formatter: p => p.value[1],
        color: '#000', fontSize: 26, fontWeight: 'bold', fontFamily: FONT
      }
    },
    gridLineSeries(2, [].concat(
      vLines(ratioMinor, '#f3f3f3', 0.8),
      vLines(ratioTicks, '#e8e8e8', 1.4),
      hLines(pathwayIdx, '#e8e8e8', 1.4)
    )),
    {
      name: 'enrichment',
      type: 'scatter',
      xAxisIndex: 2, yAxisIndex: 2,
      z: 5,
      symbolSize: d => dotSize(d[2]),
      itemStyle: { opacity: 1 },
      data: enrichData
    },
    {
      name: 'Count key',
      type: 'scatter',
      xAxisIndex: 3, yAxisIndex: 3,
      symbolSize: d => keySize(d[2]),
      itemStyle: { color: '#000' },
      data: countLegend.map((c, i) => [0.5, i, c])
    }
  ]
});
</script>
</body>
</html>
